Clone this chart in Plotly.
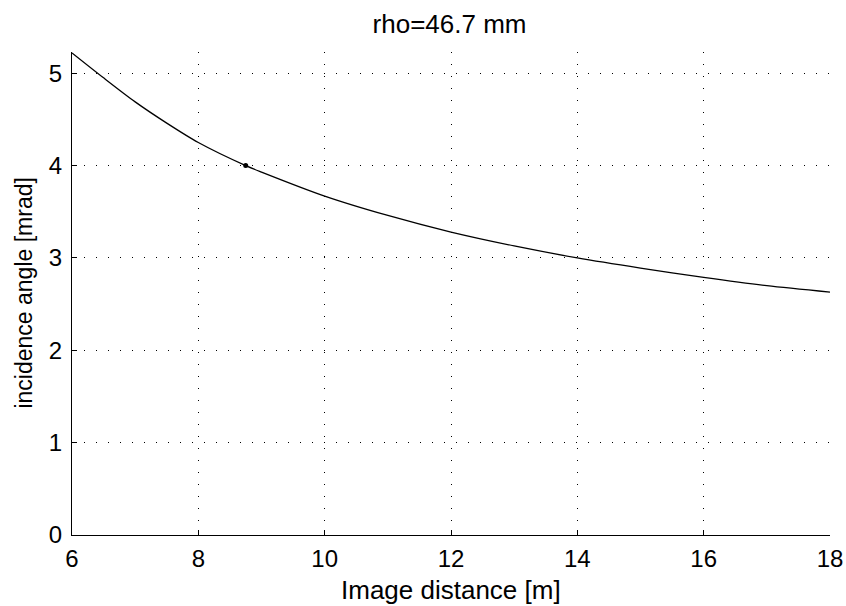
import plotly.graph_objects as go

# Data
image_distance = [6, 6.5, 7, 7.5, 8, 8.75, 9, 10, 11, 12, 13, 14, 15, 16, 17, 18]
incidence_angle = [5.22, 4.95, 4.69, 4.46, 4.25, 4.0, 3.93, 3.67, 3.46, 3.28, 3.13, 3.0, 2.89, 2.79, 2.70, 2.63]
marker_x = [8.75]
marker_y = [4.0]
x_ticks = [6, 8, 10, 12, 14, 16, 18]
y_ticks = [0, 1, 2, 3, 4, 5]

FONT = "Liberation Sans, Helvetica, Arial, sans-serif"

fig = go.Figure()
fig.add_trace(go.Scatter(x=image_distance, y=incidence_angle, mode="lines",
                         line=dict(color="black", width=1.3, shape="spline", smoothing=0.8),
                         showlegend=False, hoverinfo="skip"))
fig.add_trace(go.Scatter(x=marker_x, y=marker_y, mode="markers",
                         marker=dict(color="black", size=5),
                         showlegend=False))

axis_common = dict(
    showline=True, linecolor="black", linewidth=1,
    ticks="inside", ticklen=5, tickcolor="black", tickwidth=1,
    showgrid=True, gridcolor="black", gridwidth=1, griddash="1px,11px",
    zeroline=False, tickfont=dict(family=FONT, size=24, color="black"),
    automargin=False,
)

fig.update_xaxes(range=[6, 18], tickvals=x_ticks, ticklabelstandoff=2, **axis_common)
fig.update_yaxes(range=[0, 5.23], tickvals=y_ticks, ticklabelstandoff=4, **axis_common)

W, H = 846, 606
fig.update_layout(
    width=W, height=H,
    margin=dict(l=72, r=16, t=52, b=71),
    paper_bgcolor="white", plot_bgcolor="white",
    title=dict(text="rho=46.7 mm", x=449.5 / W, xanchor="center", y=1 - 24 / H, yanchor="middle",
               font=dict(family=FONT, size=26, color="black")),
    annotations=[
        dict(text="Image distance [m]", xref="paper", yref="paper", x=0.5, y=-0.114,
             xanchor="center", yanchor="middle", showarrow=False,
             font=dict(family=FONT, size=26, color="black")),
        dict(text="incidence angle [mrad]", xref="paper", yref="paper", x=-0.0646, y=0.5,
             xanchor="center", yanchor="middle", showarrow=False, textangle=-90,
             font=dict(family=FONT, size=23, color="black")),
    ],
)

fig.write_html(
    "out.html",
    config={"displayModeBar": False},
    post_script="document.body.style.margin='0';document.body.style.overflow='hidden';",
)
